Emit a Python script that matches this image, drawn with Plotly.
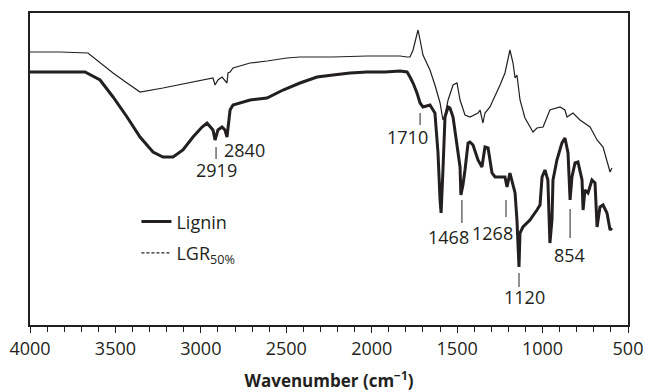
import plotly.graph_objects as go

# Lignin (thick) spectrum: wavenumber (cm-1) and transmittance (a.u.)
lignin_wn = [4000, 3824, 3678, 3590, 3514, 3432, 3356, 3280, 3222, 3163, 3105, 3046, 2993, 2964,
             2929, 2917, 2900, 2876, 2859, 2847, 2835, 2829, 2812, 2771, 2712, 2613, 2519, 2420,
             2320, 2227, 2127, 2028, 1922, 1834, 1793, 1776, 1758, 1735, 1717, 1700, 1659, 1630,
             1612, 1600, 1594, 1583, 1571, 1553, 1542, 1524, 1501, 1483, 1478, 1466, 1454, 1436,
             1425, 1407, 1378, 1355, 1337, 1319, 1296, 1278, 1249, 1220, 1208, 1191, 1161, 1150,
             1138, 1132, 1115, 1074, 1033, 1015, 1003, 986, 969, 957, 945, 939, 916, 887, 869,
             851, 839, 828, 810, 793, 769, 763, 752, 734, 711, 693, 681, 664, 646, 623, 605, 594]
lignin_t = [253, 253, 253, 245, 228, 208, 188, 173, 168, 168, 175, 188, 198, 202,
            195, 185, 195, 198, 195, 188, 205, 215, 220, 222, 225, 227, 235, 242,
            248, 250, 252, 253, 253, 254, 253, 248, 242, 232, 222, 218, 220, 212,
            172, 125, 112, 155, 208, 218, 217, 208, 178, 158, 130, 140, 155, 182,
            183, 180, 165, 158, 178, 177, 152, 148, 148, 148, 138, 152, 132, 105,
            58, 92, 98, 105, 115, 120, 148, 155, 145, 82, 105, 145, 165, 182, 187,
            172, 125, 148, 162, 163, 145, 115, 135, 132, 145, 142, 98, 118, 120, 112, 95, 97]

# LGR50% (thin) spectrum
lgr_wn = [4000, 3824, 3661, 3590, 3514, 3432, 3373, 3356, 3222, 3081, 2988, 2929, 2917, 2900,
          2876, 2859, 2847, 2841, 2829, 2812, 2712, 2613, 2496, 2420, 2227, 2028, 1834, 1793,
          1776, 1758, 1741, 1729, 1717, 1700, 1659, 1630, 1600, 1583, 1571, 1553, 1524, 1501,
          1483, 1454, 1425, 1378, 1366, 1349, 1337, 1308, 1249, 1220, 1191, 1173, 1161, 1150,
          1132, 1103, 1056, 1033, 997, 957, 898, 869, 857, 822, 781, 722, 681, 646, 605, 594]
lgr_t = [273, 273, 272, 262, 252, 242, 235, 233, 237, 242, 245, 247, 240, 245,
         248, 245, 242, 252, 253, 257, 262, 264, 267, 268, 268, 269, 269, 268,
         268, 275, 288, 295, 285, 270, 255, 240, 222, 205, 210, 225, 240, 242,
         225, 210, 208, 212, 215, 202, 212, 218, 240, 252, 275, 262, 247, 250,
         225, 207, 193, 197, 198, 215, 218, 215, 208, 212, 205, 198, 185, 178, 153, 157]

# Peak labels
peak_text = ["2919", "2840", "1710", "1468", "1268", "1120", "854"]
peak_tick_x = [2911, None, 1717, 1472, 1214, 1138, 839]
peak_tick_y0 = [178, None, 212, 125, 125, 52, 116]
peak_tick_y1 = [166, None, 200, 102, 108, 38, 87]
peak_text_x = [2911, 2742, 1788, 1548, 1296, 1103, 845]
peak_text_y = [155, 175, 188, 88, 92, 28, 70]

x_tick_vals = [4000, 3500, 3000, 2500, 2000, 1500, 1000, 500]

INK = "#231f20"
FONT = "Open Sans, Noto Sans, sans-serif"

fig = go.Figure()
fig.add_trace(go.Scatter(x=lgr_wn, y=lgr_t, mode="lines", showlegend=False,
                         line=dict(color=INK, width=1.2), hoverinfo="skip"))
fig.add_trace(go.Scatter(x=lignin_wn, y=lignin_t, mode="lines", showlegend=False,
                         line=dict(color=INK, width=3), hoverinfo="skip"))
# legend entries
fig.add_trace(go.Scatter(x=[None], y=[None], mode="lines", name="Lignin", legendgroup="a",
                         line=dict(color=INK, width=3)))
fig.add_trace(go.Scatter(x=[None], y=[None], mode="lines", name="LGR<sub>50%</sub>", legendgroup="b",
                         line=dict(color=INK, width=1.2, dash="3px,2px")))

for i, t in enumerate(peak_text):
    if peak_tick_x[i] is not None:
        fig.add_shape(type="line", xref="x", yref="y", x0=peak_tick_x[i], x1=peak_tick_x[i],
                      y0=peak_tick_y0[i], y1=peak_tick_y1[i], line=dict(color=INK, width=1))
    fig.add_annotation(x=peak_text_x[i], y=peak_text_y[i], text=t, showarrow=False,
                       font=dict(size=18, color=INK, family=FONT), xanchor="center", yanchor="middle")

fig.update_layout(
    width=645, height=392,
    margin=dict(l=30, r=17, t=13, b=67, autoexpand=False),
    paper_bgcolor="white", plot_bgcolor="white",
    font=dict(family=FONT, color=INK, size=18),
    showlegend=True,
    legend=dict(x=0.178, y=0.39, xanchor="left", yanchor="top", bgcolor="rgba(0,0,0,0)",
                font=dict(size=18, color=INK, family=FONT), tracegroupgap=5),
    hovermode=False,
)
fig.update_xaxes(range=[4000, 500], tickvals=x_tick_vals, showgrid=False, zeroline=False,
                 automargin=False,
                 showline=True, mirror=True, linecolor=INK, linewidth=2,
                 ticks="outside", ticklen=6, tickwidth=1, tickcolor=INK,
                 minor=dict(dtick=100, tick0=0, ticks="outside", ticklen=5, tickwidth=1, tickcolor=INK),
                 tickfont=dict(size=18, color=INK, family=FONT),
                 title=dict(text="<b>Wavenumber (cm<sup>−1</sup>)</b>", standoff=17,
                            font=dict(size=17, color=INK, family=FONT)))
fig.update_yaxes(range=[0, 312], showgrid=False, zeroline=False, showticklabels=False,
                 automargin=False,
                 showline=True, mirror=True, linecolor=INK, linewidth=2, ticks="")

fig.write_html("out.html", config={"displayModeBar": False},
               post_script="document.body.style.margin='0';document.body.style.padding='0';")
